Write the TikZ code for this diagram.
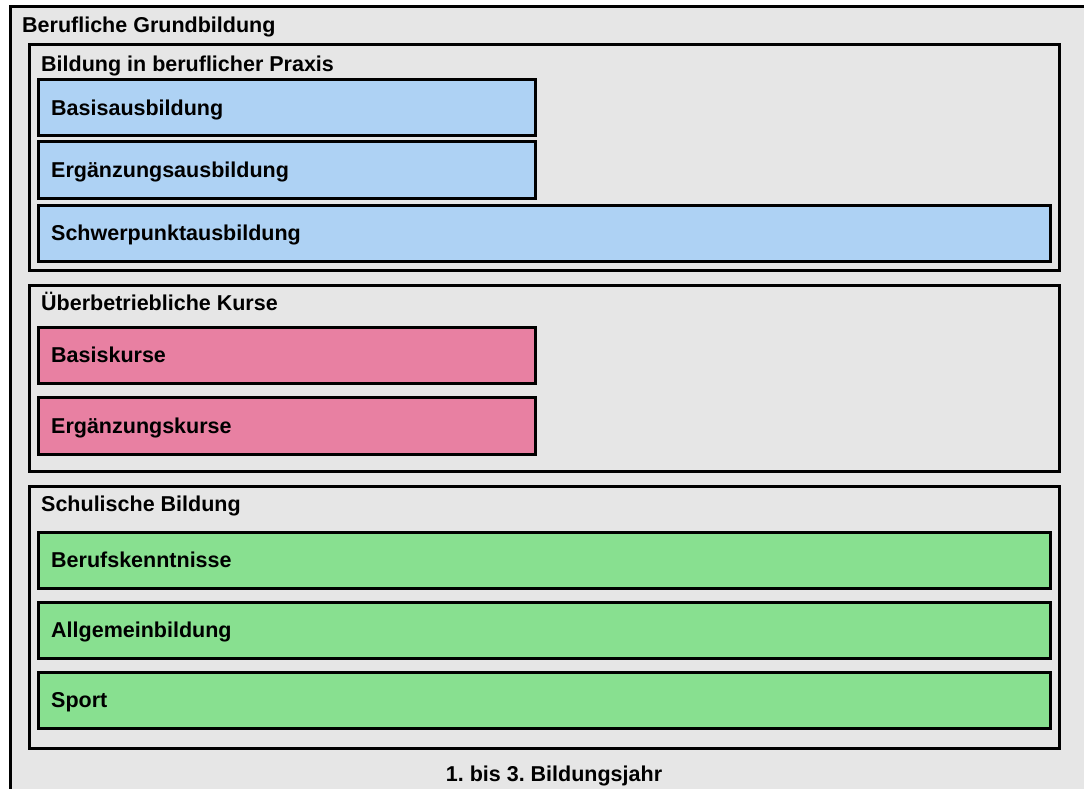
\documentclass[tikz,border=0pt]{standalone}
\usepackage{fontspec}
\setmainfont{Liberation Sans}
\frenchspacing
\definecolor{bggray}{RGB}{230,230,230}
\definecolor{bblue}{RGB}{174,210,244}
\definecolor{bpink}{RGB}{232,128,162}
\definecolor{bgreen}{RGB}{136,224,144}
\tikzset{
  lbl/.style={anchor=west,inner sep=0pt,font=\fontsize{21.5}{24}\selectfont\bfseries,text height=15.4pt,text depth=0pt},
  section/.style={draw=black,line width=3pt,fill=bggray},
  item/.style={draw=black,line width=3pt},
}
\begin{document}
\begin{tikzpicture}[x=1pt,y=-1pt]
\useasboundingbox (0,0) rectangle (1084,789);
\fill[white] (0,0) rectangle (1084,789);
\begin{scope}
\clip (0,0) rectangle (1084,789);
\draw[line width=3pt,fill=bggray] (10,7) rectangle (1100,800);
\end{scope}
\node[lbl] (title) at (22,25) {Berufliche Grundbildung};
% section 1
\draw[section] (29,45) rectangle (1059,270);
\node[lbl] (s1t) at (41,64) {Bildung in beruflicher Praxis};
\draw[item,fill=bblue] (38,80) rectangle (535,136);
\node[lbl] (b1) at (51,108) {Basisausbildung};
\draw[item,fill=bblue] (38,142) rectangle (535,198);
\node[lbl] (b2) at (51,170) {Ergänzungsausbildung};
\draw[item,fill=bblue] (38,205) rectangle (1050,261);
\node[lbl] (b3) at (51,233) {Schwerpunktausbildung};
% section 2
\draw[section] (29,285) rectangle (1059,471);
\node[lbl] (s2t) at (41,303) {Überbetriebliche Kurse};
\draw[item,fill=bpink] (38,327) rectangle (535,383);
\node[lbl] (p1) at (51,355) {Basiskurse};
\draw[item,fill=bpink] (38,397) rectangle (535,454);
\node[lbl] (p2) at (51,426) {Ergänzungskurse};
% section 3
\draw[section] (29,486) rectangle (1059,748);
\node[lbl] (s3t) at (41,504) {Schulische Bildung};
\draw[item,fill=bgreen] (38,532) rectangle (1050,588);
\node[lbl] (g1) at (51,560) {Berufskenntnisse};
\draw[item,fill=bgreen] (38,602) rectangle (1050,658);
\node[lbl] (g2) at (51,630) {Allgemeinbildung};
\draw[item,fill=bgreen] (38,672) rectangle (1050,728);
\node[lbl] (g3) at (51,700) {Sport};
\node[lbl,anchor=center] (foot) at (554,774) {1. bis 3. Bildungsjahr};
\end{tikzpicture}
\end{document}
